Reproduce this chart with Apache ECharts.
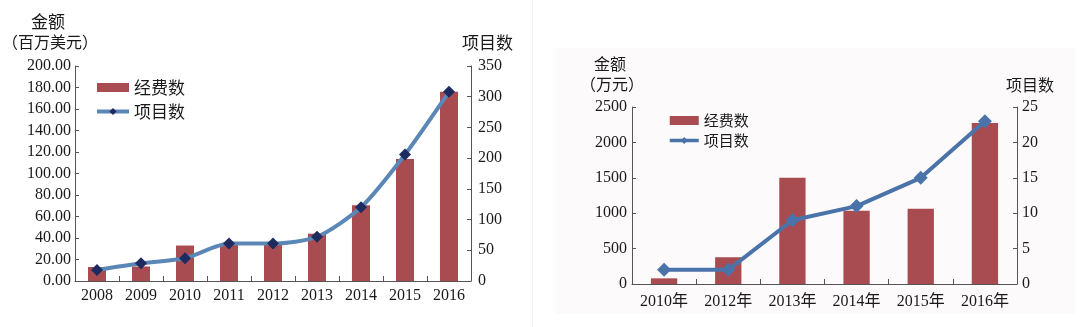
<!DOCTYPE html>
<html>
<head>
<meta charset="utf-8">
<script src="https://cdn.jsdelivr.net/npm/echarts@6/dist/echarts.min.js"></script>
<style>
html,body{margin:0;padding:0;background:#fff;}
#chart{width:1080px;height:327px;}
</style>
</head>
<body>
<div id="chart"></div>
<script>
const leftYears = ['2008','2009','2010','2011','2012','2013','2014','2015','2016'];
const leftFunds = [13, 13.5, 33, 33.5, 36, 44, 70.5, 113.5, 176];
const leftProjects = [18, 29, 37, 61, 61, 72, 120, 206, 308];
const leftFundTicks = [0, 200, 20];
const leftProjTicks = [0, 350, 50];

const rightYears = ['2010年','2012年','2013年','2014年','2015年','2016年'];
const rightFunds = [80, 378, 1500, 1035, 1063, 2273];
const rightProjects = [2, 2, 9, 11, 15, 23];
const rightFundTicks = [0, 2500, 500];
const rightProjTicks = [0, 25, 5];

const SERIF = 'Liberation Serif, Noto Sans CJK SC, serif';
const CJK = 'Noto Sans CJK SC, sans-serif';
const AX = '#555';
const TXT = '#1a1a1a';
const BAR = '#a84c51';
const LINE_L = '#5b87b6';
const MARK_L = '#1d2b5e';
const LINE_R = '#4a73aa';

function plain(v) { return String(v); }

function yAxis(gridIndex, ticks, pos, fmt, margin) {
  return {
    type: 'value', gridIndex: gridIndex, position: pos,
    min: ticks[0], max: ticks[1], interval: ticks[2],
    splitLine: {show: false},
    axisLine: {show: true, lineStyle: {color: AX, width: 1}},
    axisTick: {show: true, inside: true, length: 4, lineStyle: {color: AX}},
    axisLabel: {fontFamily: SERIF, fontSize: 16, color: TXT, margin: margin, formatter: fmt || plain}
  };
}
function xAxis(gridIndex, data, margin) {
  return {
    type: 'category', gridIndex: gridIndex, data: data,
    axisLine: {lineStyle: {color: AX, width: 1}},
    axisTick: {show: true, inside: true, length: 5, lineStyle: {color: AX}},
    axisLabel: {fontFamily: SERIF, fontSize: 16, color: TXT, margin: margin}
  };
}

const chart = echarts.init(document.getElementById('chart'), null, {renderer: 'canvas'});
chart.setOption({
  backgroundColor: '#fff',
  animation: false,
  graphic: [
    {type: 'rect', silent: true, z: -10, shape: {x: 555, y: 48, width: 520, height: 266}, style: {fill: '#fcfafa'}},
    {type: 'line', silent: true, z: -10, shape: {x1: 532.5, y1: 0, x2: 532.5, y2: 327}, style: {stroke: '#f2f2f2', lineWidth: 1}},
    {type: 'text', left: 31, top: 13, style: {text: '金额', font: '17px ' + CJK, fill: TXT}},
    {type: 'text', left: 2, top: 34, style: {text: '（百万美元）', font: '16px ' + CJK, fill: TXT}},
    {type: 'text', left: 462, top: 34, style: {text: '项目数', font: '17px ' + CJK, fill: TXT}},
    {type: 'text', left: 594, top: 56, style: {text: '金额', font: '16px ' + CJK, fill: TXT}},
    {type: 'text', left: 580, top: 76, style: {text: '（万元）', font: '16px ' + CJK, fill: TXT}},
    {type: 'text', left: 1006, top: 77, style: {text: '项目数', font: '16px ' + CJK, fill: TXT}}
  ],
  grid: [
    {left: 75, top: 66, width: 396, height: 215},
    {left: 632, top: 107, width: 385, height: 177}
  ],
  legend: [
    {
      orient: 'vertical', left: 90, top: 74, itemGap: 7, itemWidth: 32, itemHeight: 9,
      textStyle: {fontFamily: CJK, fontSize: 17, color: TXT},
      data: [
        {name: '经费数', icon: 'rect', itemStyle: {color: BAR}},
        {name: '项目数', itemStyle: {color: MARK_L}, lineStyle: {color: LINE_L, width: 4}}
      ]
    },
    {
      orient: 'vertical', left: 663, top: 108, itemGap: 5, itemWidth: 29, itemHeight: 9,
      textStyle: {fontFamily: CJK, fontSize: 15, color: TXT},
      data: [
        {name: '经费数', icon: 'rect', itemStyle: {color: BAR}},
        {name: '项目数', itemStyle: {color: LINE_R}, lineStyle: {color: LINE_R, width: 3.5}}
      ]
    }
  ],
  xAxis: [xAxis(0, leftYears, 7), xAxis(1, rightYears, 10)],
  yAxis: [
    yAxis(0, leftFundTicks, 'left', function (v) { return v.toFixed(2); }, 4),
    yAxis(0, leftProjTicks, 'right', null, 7),
    yAxis(1, rightFundTicks, 'left', null, 5),
    yAxis(1, rightProjTicks, 'right', null, 5)
  ],
  series: [
    {name: '经费数', type: 'bar', xAxisIndex: 0, yAxisIndex: 0, data: leftFunds, barWidth: '41%',
     itemStyle: {color: BAR}},
    {name: '项目数', type: 'line', xAxisIndex: 0, yAxisIndex: 1, data: leftProjects, smooth: 0.25,
     symbol: 'diamond', symbolSize: 12, lineStyle: {color: LINE_L, width: 4},
     itemStyle: {color: MARK_L}},
    {name: '经费数', type: 'bar', xAxisIndex: 1, yAxisIndex: 2, data: rightFunds, barWidth: '41%',
     itemStyle: {color: BAR}},
    {name: '项目数', type: 'line', xAxisIndex: 1, yAxisIndex: 3, data: rightProjects,
     symbol: 'diamond', symbolSize: 14, lineStyle: {color: LINE_R, width: 4},
     itemStyle: {color: LINE_R}}
  ]
});
</script>
</body>
</html>
